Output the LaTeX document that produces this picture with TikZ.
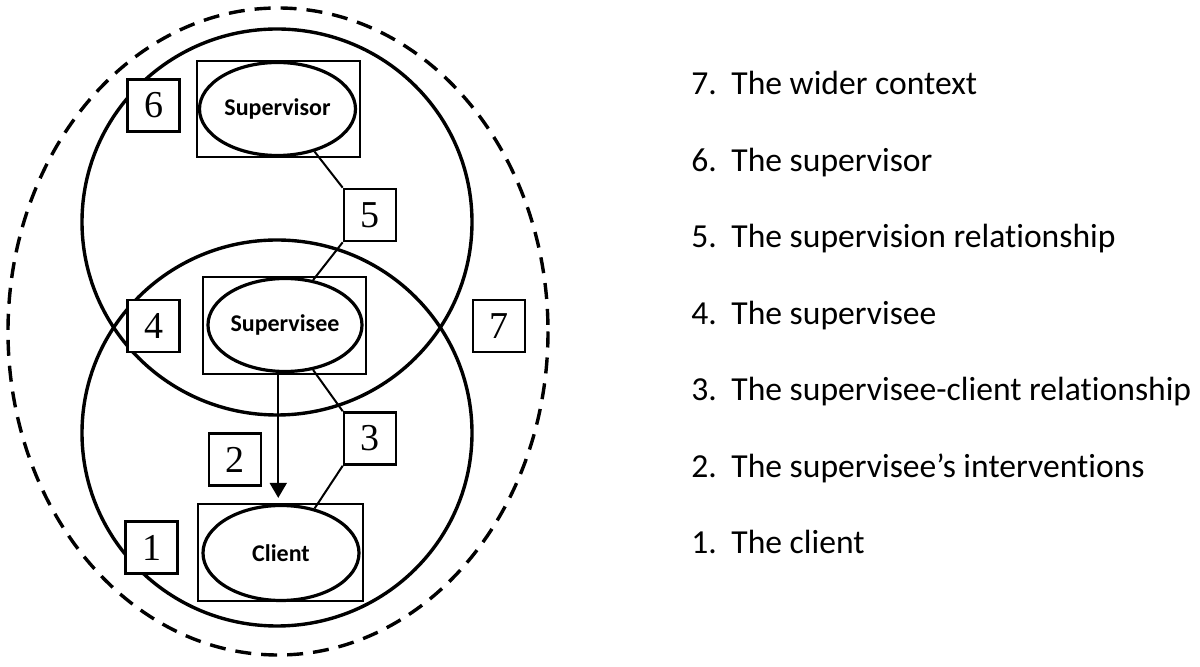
\documentclass[tikz,border=0pt]{standalone}
\usepackage{fontspec}
\setmainfont{Carlito}[Ligatures=NoCommon]
\newfontfamily\numfont{Liberation Serif}
\usetikzlibrary{shapes.geometric,arrows.meta}
\begin{document}
\begin{tikzpicture}[x=0.5pt,y=-0.5pt,
  bigring/.style={line width=1.7pt},
  numbox/.style={draw, fill=white, line width=1.3pt, minimum width=26pt, minimum height=26pt, inner sep=0pt, font=\numfont\fontsize{19}{19}\selectfont},
  framebox/.style={draw, line width=0.6pt, inner sep=0pt},
  person/.style={ellipse, draw, line width=1.6pt, inner sep=0pt, font=\bfseries\fontsize{12}{12}\selectfont},
  link/.style={line width=1pt},
  itemnum/.style={anchor=base west, inner sep=0pt, font=\fontsize{16.8}{17}\selectfont},
  itemtext/.style={anchor=base west, inner sep=0pt, font=\fontsize{16.8}{17}\selectfont}]

\useasboundingbox (0,0) rectangle (1200,667);

% rings
\draw[bigring, dash pattern=on 8pt off 5pt] (278,331.5) ellipse [x radius=270, y radius=323.5];
\draw[bigring] (277,222) ellipse [x radius=195, y radius=193];
\draw[bigring] (277,433) ellipse [x radius=195, y radius=193];

% frames and persons
\node[framebox, minimum width=81.5pt, minimum height=48pt] (fsor) at (278.5,109) {};
\node[person, minimum width=78pt, minimum height=46.5pt] (sor) at (277.5,109) {Supervisor};
\node[framebox, minimum width=81.5pt, minimum height=48.5pt] (fsee) at (284.5,325.5) {};
\node[person, minimum width=76.5pt, minimum height=46.5pt] (see) at (285,325) {Supervisee};
\node[framebox, minimum width=82.5pt, minimum height=48.5pt] (fcli) at (280.5,552.5) {};
\node[person, minimum width=78pt, minimum height=47.5pt] (cli) at (281,553) {Client};

% number boxes
\node[numbox] (b6) at (153.5,105.5) {6};
\node[numbox] (b5) at (370,215) {5};
\node[numbox] (b4) at (153.5,326) {4};
\node[numbox] (b7) at (499,326) {7};
\node[numbox] (b2) at (235,459.5) {2};
\node[numbox] (b3) at (370,438.5) {3};
\node[numbox] (b1) at (151.5,547.5) {1};

% connectors
\draw[link] (sor.-49) -- (b5.north west);
\draw[link] (b5.south west) -- (see.58);
\draw[link] (see.-58) -- (b3.north west);
\draw[link] (b3.south west) -- (cli.53);
\draw[link, -{Triangle[length=7.5pt,width=8.5pt]}, shorten >=3pt] (see.-98) -- (cli.north -| see.-98);

% legend
\foreach \n/\t [count=\k from 0] in {7/The wider context,6/The supervisor,5/The supervision relationship,4/The supervisee,3/The supervisee-client relationship,2/The supervisee’s interventions,1/The client}{
  \node[itemnum] (n\n) at (691,95+76.5*\k) {\n.};
  \node[itemtext] (t\n) at (731,95+76.5*\k) {\t};
}
\end{tikzpicture}
\end{document}
